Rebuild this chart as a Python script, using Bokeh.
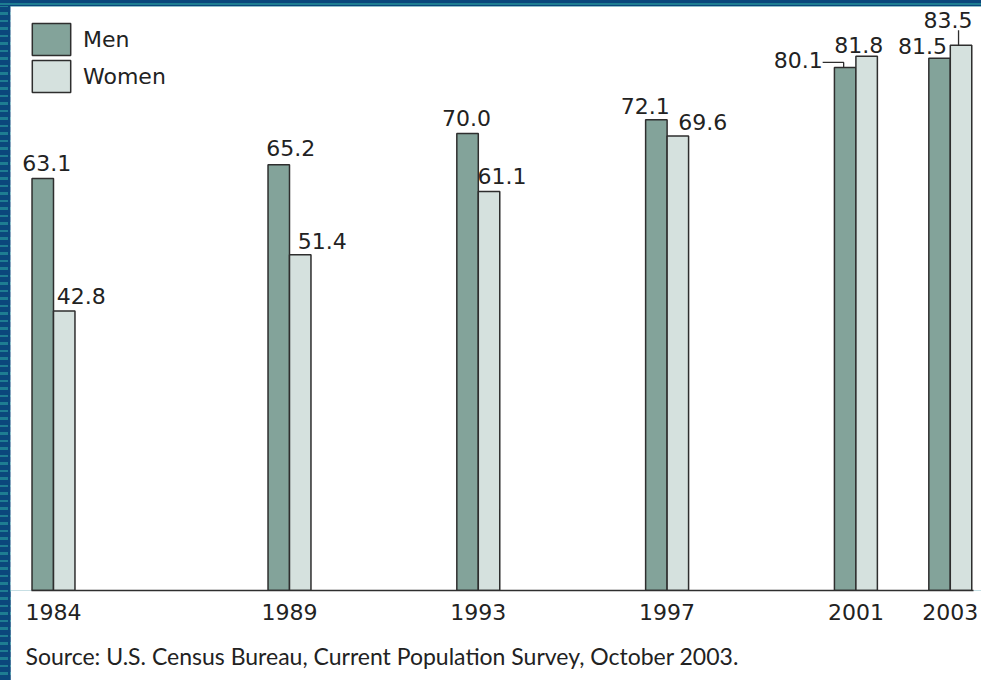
from bokeh.plotting import figure
from bokeh.models import Range1d, FixedTicker, Legend, LegendItem, Title, ColumnDataSource
from bokeh.core.properties import value
from bokeh.embed import file_html
from bokeh.resources import INLINE

# ---------------- data ----------------
years = [1984, 1989, 1993, 1997, 2001, 2003]
men = [63.1, 65.2, 70.0, 72.1, 80.1, 81.5]
women = [42.8, 51.4, 61.1, 69.6, 81.8, 83.5]
tick_labels = ["1984", "1989", "1993", "1997", "2001", "2003"]
series_names = ["Men", "Women"]
source_note = "Source: U.S. Census Bureau, Current Population Survey, October 2003."

# ---------------- style / placement ----------------
W, H = 981, 680
BAR_W = 0.455
MEN_COLOR = "#83a39a"
WOMEN_COLOR = "#d5e1de"
EDGE = "#2e2e2e"
TEXT = "#222222"
NUM_FONT = "DejaVu Sans"
TEXT_SHIFT = -8  # px, empirical baseline correction

# label offsets in px: dx from bar centre (text centre), dy of baseline from bar top (negative = up)
men_dx = [4, 12, -1, -11, -47, -17]
men_dy = [-7, -9, -7, -6, 1, -4]
women_dx = [17, 22, 13, 25, -8, -13]
women_dy = [-7, -6, -8, -6, -3, -17]

x0 = years[0] - 43 / 47.2
x1 = x0 + W / 47.2
y1 = 584 / 6.53

p = figure(width=W, height=H, output_backend="svg", toolbar_location=None,
           x_range=Range1d(x0, x1), y_range=Range1d(0, y1),
           y_axis_location=None, min_border_left=0, min_border_right=0,
           min_border_top=0, min_border_bottom=H - 584)
p.styles = {
    "padding-left": "10px",
    "padding-top": "6px",
    "background": ("linear-gradient(to bottom, #0b477c 0px, #0b477c 3px, #1e7d92 3px, #1e7d92 5px, #0b477c 5px, #0b477c 6px) top left / 100% 6px no-repeat, "
                   "linear-gradient(#0b477c, #0b477c) 8px 0 / 2px 100% no-repeat, "
                   "repeating-linear-gradient(to bottom, #0b477c 0px, #0b477c 5px, #1e7d92 5px, #1e7d92 7.5px)"),
}
p.background_fill_color = "white"
p.border_fill_color = "white"
p.outline_line_color = None
p.grid.visible = False

px_x = (x1 - x0) / W
px_y = y1 / 584

men_x = [y - BAR_W / 2 for y in years]
women_x = [y + BAR_W / 2 for y in years]

src_m = ColumnDataSource(dict(x=men_x, top=men,
                              lx=[x + d * px_x for x, d in zip(men_x, men_dx)],
                              ly=[v - (d + TEXT_SHIFT) * px_y for v, d in zip(men, men_dy)],
                              txt=["%.1f" % v for v in men]))
src_w = ColumnDataSource(dict(x=women_x, top=women,
                              lx=[x + d * px_x for x, d in zip(women_x, women_dx)],
                              ly=[v - (d + TEXT_SHIFT) * px_y for v, d in zip(women, women_dy)],
                              txt=["%.1f" % v for v in women]))

rm = p.vbar(x="x", top="top", width=BAR_W, source=src_m, fill_color=MEN_COLOR,
            line_color=EDGE, line_width=1.5)
rw = p.vbar(x="x", top="top", width=BAR_W, source=src_w, fill_color=WOMEN_COLOR,
            line_color=EDGE, line_width=1.5)

for s in (src_m, src_w):
    p.text(x="lx", y="ly", text="txt", source=s, text_align="center",
           text_baseline="alphabetic", text_font=value(NUM_FONT),
           text_font_size="22px", text_color=TEXT)

# leader lines (2001 men, 2003 women)
i01 = years.index(2001)
i03 = years.index(2003)
lead_xs = [
    [men_x[i01] - 22.5 * px_x, men_x[i01] - 1.5 * px_x, men_x[i01] - 1.5 * px_x],
    [women_x[i03] - 2.5 * px_x, women_x[i03] - 2.5 * px_x],
]
lead_ys = [
    [men[i01] + 5 * px_y, men[i01] + 5 * px_y, men[i01]],
    [women[i03] + 15 * px_y, women[i03]],
]
p.multi_line(xs=lead_xs, ys=lead_ys, line_color=EDGE, line_width=1.3)

# axis
ax = p.xaxis[0]
ax.ticker = FixedTicker(ticks=years)
ax.major_label_overrides = {y: t for y, t in zip(years, tick_labels)}
ax.bounds = (years[0] - BAR_W - 0.02, years[-1] + BAR_W + 0.03)
ax.axis_line_color = EDGE
ax.axis_line_width = 1.5
ax.major_tick_in = 0
ax.major_tick_out = 0
ax.minor_tick_line_color = None
ax.major_label_standoff = 13
ax.major_label_text_font = NUM_FONT
ax.major_label_text_font_size = "22px"
ax.major_label_text_color = TEXT

# legend: one per series so the square spacing matches
for name, r, top_px in ((series_names[0], rm, 13), (series_names[1], rw, 50)):
    lg = Legend(items=[LegendItem(label=name, renderers=[r])],
                location=(17, 584 - top_px - 40), glyph_width=48, glyph_height=40,
                label_height=40, padding=0, margin=0, label_standoff=8,
                border_line_color=None, background_fill_alpha=0,
                label_text_font=NUM_FONT, label_text_font_size="22px",
                label_text_color=TEXT)
    p.add_layout(lg)

note = Title(text=source_note, align="left", offset=15, text_font="Lato",
             text_font_size="23px", text_font_style="normal", text_color=TEXT,
             standoff=34)
p.add_layout(note, "below")

open("out.html", "w").write(file_html(p, INLINE))
